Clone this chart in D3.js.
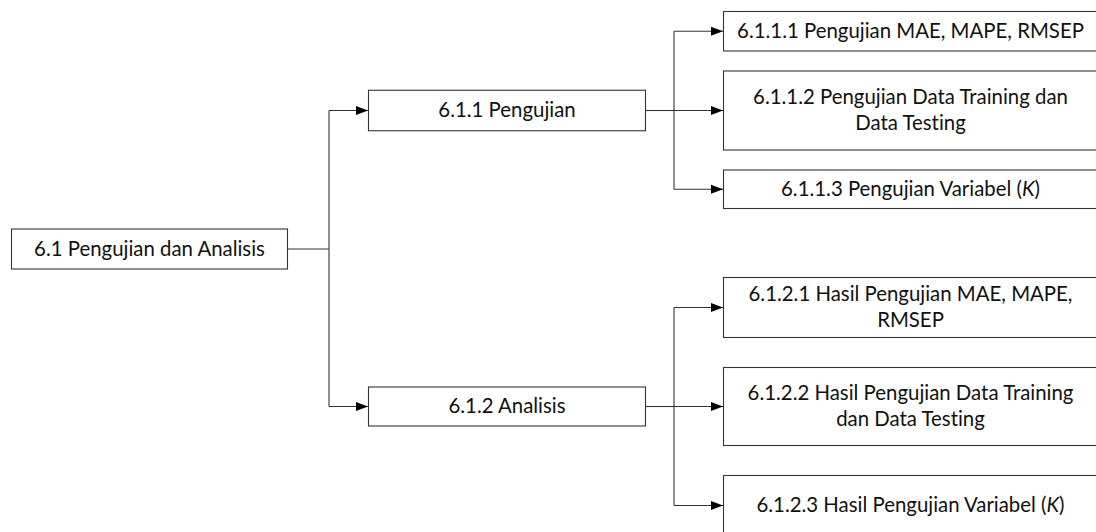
<!DOCTYPE html>
<html>
<head>
<meta charset="utf-8">
<script src="https://cdn.jsdelivr.net/npm/d3@7/dist/d3.min.js"></script>
<style>
  html, body { margin: 0; padding: 0; background: #fff; }
  svg { display: block; }
  text { font-variant-ligatures: none; font-feature-settings: "liga" 0, "clig" 0; }
</style>
</head>
<body>
<svg id="chart" width="1096" height="532"></svg>
<script>
// ---- DATA ----
const nodeIds = ["6.1", "6.1.1", "6.1.2", "6.1.1.1", "6.1.1.2", "6.1.1.3", "6.1.2.1", "6.1.2.2", "6.1.2.3"];
const nodeParents = ["", "6.1", "6.1", "6.1.1", "6.1.1", "6.1.1", "6.1.2", "6.1.2", "6.1.2"];
// each label: list of lines; *text* = italic
const nodeLabels = [
  ["6.1 Pengujian dan Analisis"],
  ["6.1.1 Pengujian"],
  ["6.1.2 Analisis"],
  ["6.1.1.1 Pengujian MAE, MAPE, RMSEP"],
  ["6.1.1.2 Pengujian Data Training dan", "Data Testing"],
  ["6.1.1.3 Pengujian Variabel (*K*)"],
  ["6.1.2.1 Hasil Pengujian MAE, MAPE,", "RMSEP"],
  ["6.1.2.2 Hasil Pengujian Data Training", "dan Data Testing"],
  ["6.1.2.3 Hasil Pengujian Variabel (*K*)"]
];

// ---- LAYOUT (sizes / positions, kept apart from data) ----
const colX = [11, 368, 723];          // left edge of boxes per depth
const colW = [276, 277, 374];         // box widths per depth
const elbowX = [329, 674];            // vertical connector x per depth
const boxH = {"6.1": 40, "6.1.1": 40.5, "6.1.2": 39,
  "6.1.1.1": 39.5, "6.1.1.2": 79, "6.1.1.3": 38.5,
  "6.1.2.1": 60, "6.1.2.2": 78, "6.1.2.3": 60};
const leafGap = {"6.1.1": 20, "6.1.2": 30};
const groupGap = 69;
const leafTop = 11.5;
const rootCY = 249;
const lineH = 26, capH = 13.4;
const stroke = "#333";

const svg = d3.select("#chart");
const FONT = "Lato, 'Open Sans', 'DejaVu Sans', sans-serif";

// fit the font size to the reference width of the root label
const probe = svg.append("text").attr("font-family", FONT).attr("font-size", 100).text(nodeLabels[0][0]);
const fs = 100 * 231 / probe.node().getComputedTextLength();
probe.remove();

const table = nodeIds.map((id, i) => ({id, parent: nodeParents[i] || null, lines: nodeLabels[i]}));
const root = d3.stratify().id(d => d.id).parentId(d => d.parent)(table);

// stack leaves vertically
let y = leafTop;
root.children.forEach((grp, gi) => {
  if (gi > 0) y += groupGap;
  grp.children.forEach((leaf, li) => {
    if (li > 0) y += leafGap[grp.id];
    leaf.y0 = y; leaf.h = boxH[leaf.id]; y += leaf.h;
    leaf.cy = leaf.y0 + leaf.h / 2;
  });
  const mid = grp.children[Math.floor(grp.children.length / 2)];
  grp.h = boxH[grp.id]; grp.cy = mid.cy; grp.y0 = grp.cy - grp.h / 2;
});
root.h = boxH[root.id]; root.cy = rootCY; root.y0 = root.cy - root.h / 2;
root.each(n => { n.x0 = colX[n.depth]; n.w = colW[n.depth]; });

// arrow marker
svg.append("defs").append("marker")
  .attr("id", "arr").attr("viewBox", "0 0 12 10").attr("refX", 12).attr("refY", 5)
  .attr("markerWidth", 12).attr("markerHeight", 10).attr("markerUnits", "userSpaceOnUse")
  .attr("orient", "auto")
  .append("path").attr("d", "M0,0.5 L12,5 L0,9.5 Z").attr("fill", "#000");

const links = svg.append("g").attr("fill", "none").attr("stroke", stroke).attr("stroke-width", 1.1);
root.each(n => {
  if (!n.children) return;
  const ex = elbowX[n.depth];
  const kids = n.children;
  links.append("line").attr("x1", n.x0 + n.w).attr("x2", ex).attr("y1", n.cy).attr("y2", n.cy);
  links.append("line").attr("x1", ex).attr("x2", ex)
    .attr("y1", d3.min(kids, k => k.cy)).attr("y2", d3.max(kids, k => k.cy));
  kids.forEach(k => {
    links.append("line").attr("x1", ex).attr("x2", k.x0).attr("y1", k.cy).attr("y2", k.cy)
      .attr("marker-end", "url(#arr)");
  });
});

const nodes = svg.append("g").selectAll("g").data(root.descendants()).join("g");
nodes.append("rect")
  .attr("x", d => d.x0 + 0.5).attr("y", d => d.y0)
  .attr("width", d => d.w).attr("height", d => d.h)
  .attr("fill", "#fff").attr("stroke", stroke).attr("stroke-width", 1.1);

nodes.each(function(d) {
  const g = d3.select(this);
  const n = d.data.lines.length;
  const b1 = d.cy - ((n - 1) * lineH - capH) / 2;
  d.data.lines.forEach((ln, i) => {
    const t = g.append("text")
      .attr("x", d.x0 + d.w / 2 + 0.5).attr("y", b1 + i * lineH)
      .attr("text-anchor", "middle").attr("font-family", FONT)
      .attr("font-size", fs).attr("fill", "#111");
    ln.split("*").forEach((part, pi) => {
      if (!part) return;
      t.append("tspan").attr("font-style", pi % 2 ? "italic" : "normal").text(part);
    });
  });
});
</script>
</body>
</html>
